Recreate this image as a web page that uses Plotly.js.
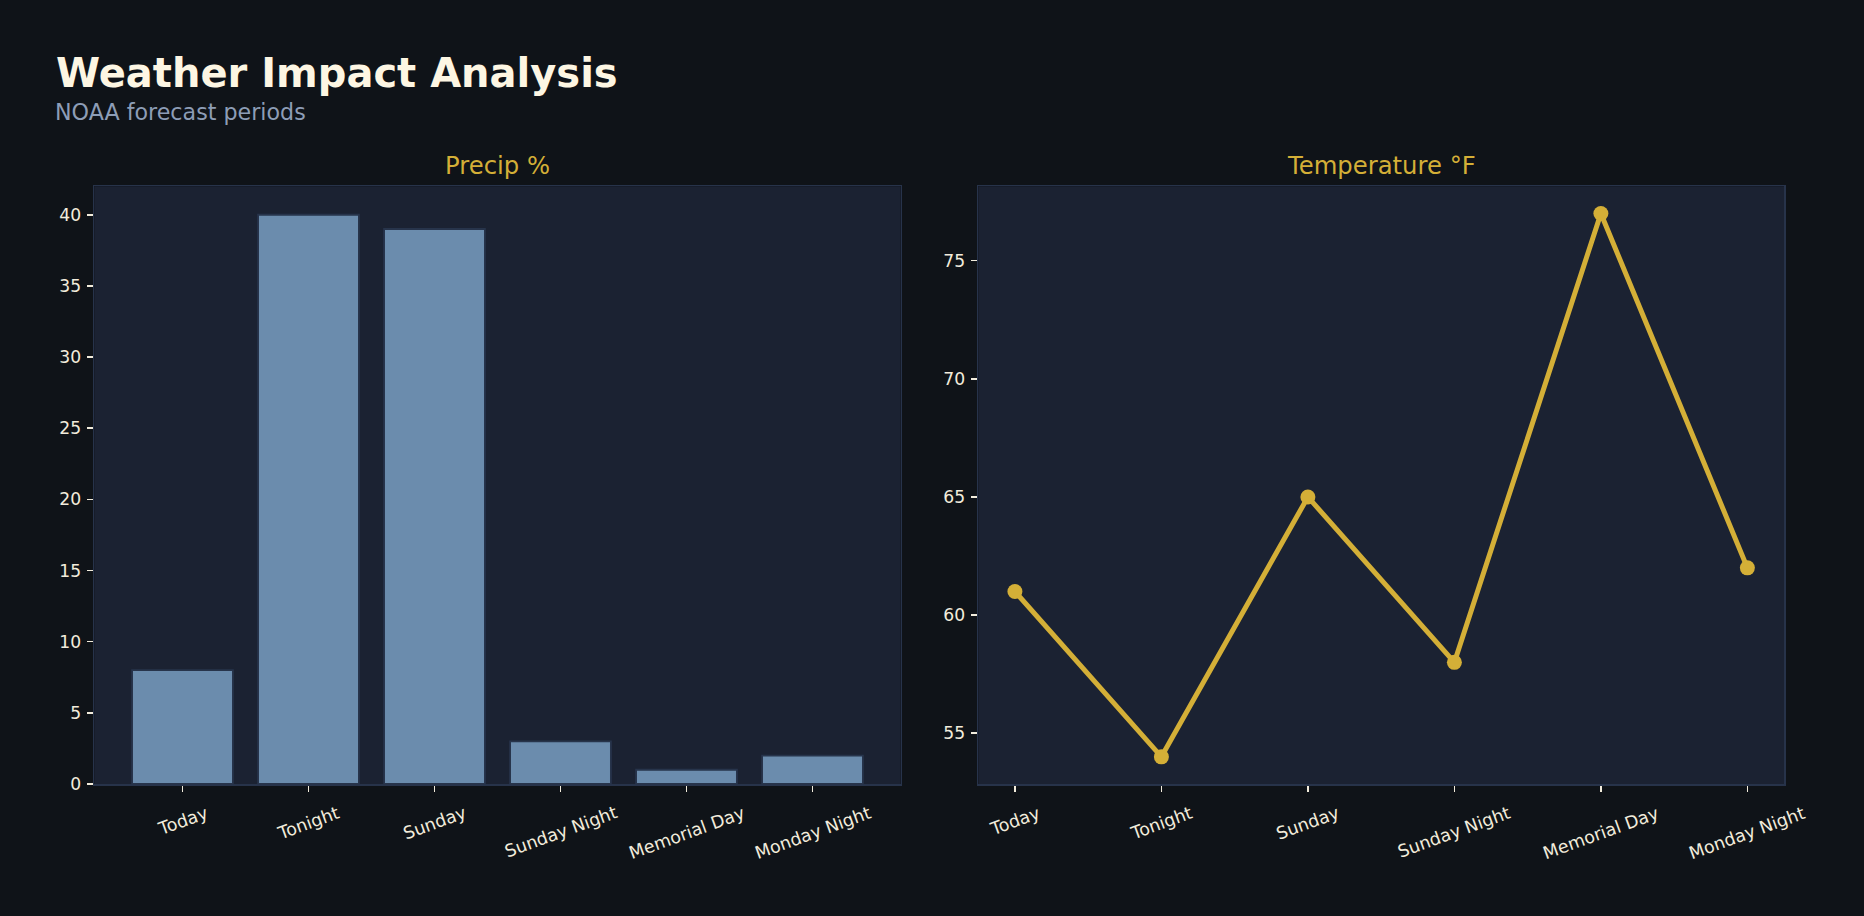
<!DOCTYPE html>
<html>
<head>
<meta charset="utf-8">
<script src="https://cdn.plot.ly/plotly-3.0.1.min.js"></script>
<style>
  html, body { margin: 0; padding: 0; background: #0f1318; }
  #chart { width: 1864px; height: 916px; }
</style>
</head>
<body>
<div id="chart"></div>
<script>
// ---- data ----
const periods = ["Today", "Tonight", "Sunday", "Sunday Night", "Memorial Day", "Monday Night"];
const precipPct = [8, 40, 39, 3, 1, 2];
const temperatureF = [61, 54, 65, 58, 77, 62];
const precipTicks = [0, 5, 10, 15, 20, 25, 30, 35, 40];
const tempTicks = [55, 60, 65, 70, 75];

const titleText = "Weather Impact Analysis";
const subtitleText = "NOAA forecast periods";
const leftTitle = "Precip %";
const rightTitle = "Temperature °F";

// ---- style ----
const FONT = "DejaVu Sans, sans-serif";
const BG = "#0f1318";
const PLOT_BG = "#1b2232";
const SPINE = "#27334a";
const CREAM = "#f2ecdc";
const GOLD = "#d4af37";
const BAR = "#6b8cad";
const BAR_EDGE = "#27344b";

const traces = [
  {
    type: "bar",
    x: periods,
    y: precipPct,
    xaxis: "x",
    yaxis: "y",
    width: 0.8,
    marker: { color: BAR, line: { color: BAR_EDGE, width: 1.8 } },
    hoverinfo: "x+y",
    showlegend: false
  },
  {
    type: "scatter",
    mode: "lines+markers",
    x: periods,
    y: temperatureF,
    xaxis: "x2",
    yaxis: "y2",
    line: { color: GOLD, width: 5 },
    marker: { color: GOLD, size: 15 },
    showlegend: false
  }
];

function xAxis(domain, range) {
  return {
    domain: domain,
    type: "category",
    categoryorder: "array",
    categoryarray: periods,
    range: range,
    showgrid: false,
    zeroline: false,
    showline: true,
    mirror: true,
    linecolor: SPINE,
    linewidth: 1.7,
    ticks: "outside",
    ticklen: 6,
    tickwidth: 1.5,
    tickcolor: CREAM,
    showticklabels: false,
    fixedrange: true
  };
}
function yAxis(domain, range, tickvals, anchor) {
  return {
    domain: domain,
    anchor: anchor,
    range: range,
    tickvals: tickvals,
    ticktext: tickvals.map(String),
    showgrid: false,
    zeroline: false,
    showline: true,
    mirror: true,
    linecolor: SPINE,
    linewidth: 1.7,
    ticks: "outside",
    ticklen: 6,
    tickwidth: 1.5,
    tickcolor: CREAM,
    tickfont: { family: FONT, size: 17.2, color: CREAM },
    ticklabelstandoff: 2,
    fixedrange: true
  };
}

const yDom = [1 - 784 / 916, 1 - 186.3 / 916];

const annotations = [
  {
    text: "<b>" + titleText + "</b>",
    xref: "paper", yref: "paper",
    x: 53.5 / 1864, y: 1 - 98 / 916,
    xanchor: "left", yanchor: "bottom",
    showarrow: false,
    font: { family: FONT, size: 40, color: "#fdf6e3" }
  },
  {
    text: subtitleText,
    xref: "paper", yref: "paper",
    x: 52.5 / 1864, y: 1 - 127.3 / 916,
    xanchor: "left", yanchor: "bottom",
    showarrow: false,
    font: { family: FONT, size: 22.2, color: "#8d9db6" }
  },
  {
    text: leftTitle,
    xref: "x domain", yref: "paper",
    x: 0.5, y: 1 - 181.7 / 916,
    xanchor: "center", yanchor: "bottom",
    showarrow: false,
    font: { family: FONT, size: 24.3, color: GOLD }
  },
  {
    text: rightTitle,
    xref: "x2 domain", yref: "paper",
    x: 0.5, y: 1 - 181.7 / 916,
    xanchor: "center", yanchor: "bottom",
    showarrow: false,
    font: { family: FONT, size: 24.3, color: GOLD }
  }
];

[["x", "y domain"], ["x2", "y2 domain"]].forEach(function (refs) {
  periods.forEach(function (p) {
    annotations.push({
      text: p,
      xref: refs[0], yref: refs[1],
      x: p, y: 0,
      xanchor: "center", yanchor: "top",
      yshift: -16,
      textangle: -20,
      showarrow: false,
      font: { family: FONT, size: 17.5, color: CREAM }
    });
  });
});

const layout = {
  width: 1864,
  height: 916,
  margin: { l: 0, r: 0, t: 0, b: 0 },
  paper_bgcolor: BG,
  plot_bgcolor: PLOT_BG,
  font: { family: FONT, color: CREAM },
  showlegend: false,
  bargap: 0.2,
  xaxis: xAxis([94.3 / 1864, 900.7 / 1864], [-0.7, 5.7]),
  yaxis: yAxis(yDom, [0, 42], precipTicks, "x"),
  xaxis2: Object.assign(xAxis([978.3 / 1864, 1784 / 1864], [-0.25, 5.25]), { anchor: "y2" }),
  yaxis2: yAxis(yDom, [52.85, 78.15], tempTicks, "x2"),
  annotations: annotations
};
layout.xaxis.anchor = "y";

Plotly.newPlot("chart", traces, layout, { displayModeBar: false, staticPlot: true });
</script>
</body>
</html>
